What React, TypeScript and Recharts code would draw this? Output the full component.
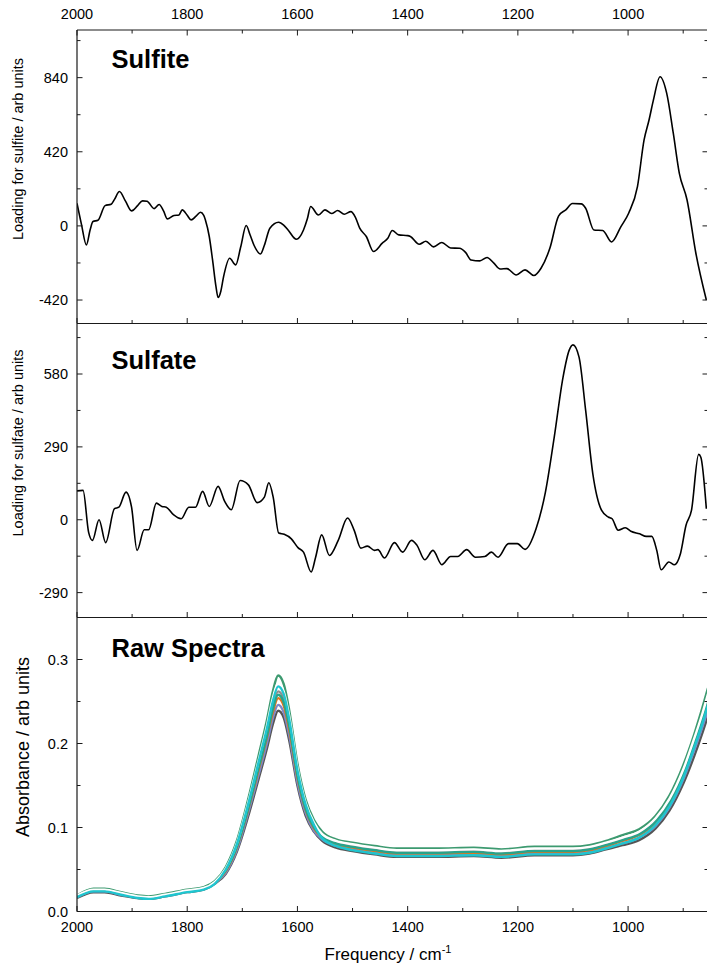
import React from "react";
import { LineChart, Line, XAxis, YAxis, Customized } from "recharts";

const FONT = '"Liberation Sans", Arial, Helvetica, sans-serif';
const INK = "#1a1a1a";

// ---- shared wavenumber axis (drawn high -> low) ----
const FREQ_DOMAIN = [855, 2000];
const FREQ_TICKS = [2000, 1900, 1800, 1700, 1600, 1500, 1400, 1300, 1200, 1100, 1000, 900];
const FREQ_LABELS = [2000, 1800, 1600, 1400, 1200, 1000];

// ---- loading axes ----
const SULFITE_DOMAIN = [-553, 1110];
const SULFITE_TICKS = [1050, 840, 630, 420, 210, 0, -210, -420];
const SULFITE_LABELS = [840, 420, 0, -420];

const SULFATE_DOMAIN = [-389, 781];
const SULFATE_TICKS = [725, 580, 435, 290, 145, 0, -145, -290];
const SULFATE_LABELS = [580, 290, 0, -290];

const ABS_DOMAIN = [0, 0.35];
const ABS_TICKS = [0, 0.05, 0.1, 0.15, 0.2, 0.25, 0.3];
const ABS_LABELS = [0, 0.1, 0.2, 0.3];

// ---- sulfite loading ----
const sulfiteFreq = [
  2000, 1992, 1983, 1976, 1971, 1962, 1949, 1938, 1932, 1923, 1912, 1901, 1890, 1881, 1873,
  1860, 1851, 1843, 1836, 1824, 1815, 1809, 1800, 1793, 1784, 1776, 1770, 1767, 1760, 1754,
  1748, 1744, 1739, 1734, 1723, 1712, 1703, 1693, 1686, 1679, 1667, 1660, 1650, 1634, 1625,
  1617, 1602, 1589, 1582, 1576, 1562, 1550, 1538, 1527, 1515, 1503, 1495, 1487, 1475, 1462,
  1446, 1436, 1428, 1416, 1400, 1395, 1379, 1367, 1353, 1338, 1322, 1306, 1295, 1285, 1269,
  1256, 1244, 1232, 1220, 1203, 1187, 1171, 1158, 1142, 1126, 1113, 1101, 1085, 1077, 1062,
  1046, 1030, 1013, 999, 983, 971, 962, 954, 942, 930, 918, 907, 893, 877, 858,
];
const sulfiteLoading = [
  128, 10, -108, -20, 25, 32, 115, 123, 150, 195, 140, 85, 115, 142, 140,
  98, 121, 85, 40, 59, 62, 91, 60, 34, 55, 77, 60, 34, -60, -193,
  -340, -406, -370, -287, -183, -221, -120, 2, -50, -108, -159, -110, -13, 21, 5,
  -23, -76, -23, 40, 110, 62, 91, 70, 87, 66, 81, 50, -13, -60, -145,
  -98, -70, -26, -51, -55, -60, -104, -87, -119, -94, -125, -127, -150, -193, -198,
  -179, -210, -244, -242, -278, -249, -281, -240, -127, 57, 91, 127, 125, 100, -23,
  -26, -91, -4, 72, 223, 487, 600, 714, 845, 752, 525, 298, 147, -155, -420,
];

// ---- sulfate loading ----
const sulfateFreq = [
  2000, 1989, 1979, 1972, 1960, 1948, 1932, 1924, 1911, 1901, 1891, 1878, 1870, 1856, 1846,
  1838, 1825, 1811, 1797, 1785, 1772, 1760, 1744, 1732, 1720, 1704, 1689, 1673, 1660, 1652,
  1644, 1634, 1624, 1611, 1599, 1589, 1575, 1567, 1556, 1542, 1526, 1509, 1497, 1485, 1473,
  1460, 1454, 1442, 1424, 1409, 1393, 1383, 1369, 1354, 1338, 1322, 1309, 1293, 1277, 1260,
  1248, 1236, 1217, 1201, 1187, 1167, 1150, 1134, 1118, 1107, 1100, 1089, 1077, 1064, 1048,
  1036, 1029, 1018, 1005, 995, 979, 967, 957, 948, 940, 926, 916, 905, 895, 885,
  872, 868, 858,
];
const sulfateLoading = [
  115, 117, -49, -82, 0, -91, 44, 50, 110, 50, -122, -40, -40, 66, 53,
  50, 20, 4, 50, 50, 113, 53, 133, 73, 40, 156, 139, 68, 90, 147,
  90, -53, -58, -76, -111, -129, -208, -149, -60, -142, -82, 7, -42, -113, -105,
  -122, -119, -152, -91, -129, -82, -102, -159, -122, -179, -146, -146, -119, -149, -146,
  -129, -149, -95, -95, -118, -36, 110, 329, 568, 674, 696, 647, 435, 183, 37,
  11, 4, -42, -32, -46, -56, -66, -66, -122, -199, -168, -179, -135, -23, 37,
  260, 249, 44,
];

// ---- raw absorbance spectra ----
const rawFreq = [
  2000, 1970, 1950, 1920, 1890, 1870, 1840, 1800, 1770, 1750,
  1730, 1710, 1690, 1670, 1655, 1645, 1635, 1625, 1615, 1600, 1585, 1570,
  1555, 1530, 1500, 1460, 1420, 1350, 1280, 1230, 1170, 1100, 1070, 1040,
  1010, 980, 950, 925, 900, 880, 865, 855,
];
const rawA = [
  0.016, 0.023, 0.023, 0.019, 0.016, 0.015, 0.018, 0.023, 0.026, 0.033,
  0.045, 0.071, 0.112, 0.159, 0.195, 0.222, 0.239, 0.231, 0.204, 0.150, 0.114, 0.095,
  0.084, 0.076, 0.072, 0.068, 0.065, 0.065, 0.066, 0.064, 0.067, 0.067, 0.069, 0.074,
  0.079, 0.085, 0.099, 0.120, 0.152, 0.185, 0.213, 0.233,
];
const rawB = [
  0.017, 0.024, 0.024, 0.020, 0.017, 0.016, 0.019, 0.024, 0.027, 0.034,
  0.046, 0.073, 0.116, 0.164, 0.201, 0.229, 0.246, 0.237, 0.210, 0.154, 0.117, 0.096,
  0.086, 0.078, 0.074, 0.070, 0.067, 0.067, 0.068, 0.066, 0.069, 0.069, 0.071, 0.076,
  0.081, 0.088, 0.102, 0.124, 0.157, 0.192, 0.220, 0.241,
];
const rawC = [
  0.018, 0.025, 0.025, 0.021, 0.017, 0.016, 0.019, 0.024, 0.027, 0.034,
  0.048, 0.076, 0.120, 0.170, 0.208, 0.236, 0.254, 0.245, 0.217, 0.160, 0.121, 0.099,
  0.088, 0.080, 0.076, 0.072, 0.069, 0.069, 0.070, 0.068, 0.071, 0.071, 0.073, 0.078,
  0.084, 0.091, 0.105, 0.128, 0.161, 0.197, 0.226, 0.248,
];
const rawD = [
  0.018, 0.025, 0.026, 0.022, 0.018, 0.017, 0.020, 0.025, 0.028, 0.035,
  0.049, 0.077, 0.121, 0.172, 0.210, 0.240, 0.258, 0.249, 0.221, 0.162, 0.122, 0.100,
  0.089, 0.081, 0.077, 0.073, 0.070, 0.070, 0.071, 0.069, 0.072, 0.072, 0.074, 0.079,
  0.085, 0.092, 0.107, 0.130, 0.165, 0.201, 0.231, 0.253,
];
const rawE = [
  0.019, 0.026, 0.026, 0.022, 0.018, 0.017, 0.020, 0.025, 0.028, 0.035,
  0.049, 0.078, 0.123, 0.175, 0.214, 0.243, 0.262, 0.253, 0.224, 0.164, 0.124, 0.102,
  0.090, 0.082, 0.078, 0.074, 0.071, 0.071, 0.072, 0.070, 0.073, 0.073, 0.075, 0.080,
  0.086, 0.093, 0.109, 0.132, 0.167, 0.203, 0.234, 0.256,
];
const rawF = [
  0.017, 0.024, 0.024, 0.020, 0.016, 0.015, 0.018, 0.023, 0.026, 0.033,
  0.050, 0.080, 0.126, 0.179, 0.219, 0.249, 0.268, 0.259, 0.229, 0.168, 0.127, 0.103,
  0.087, 0.078, 0.073, 0.069, 0.066, 0.066, 0.067, 0.065, 0.068, 0.068, 0.070, 0.075,
  0.081, 0.088, 0.103, 0.125, 0.159, 0.195, 0.224, 0.246,
];
const rawG = [
  0.019, 0.026, 0.026, 0.022, 0.018, 0.017, 0.020, 0.025, 0.028, 0.035,
  0.051, 0.081, 0.128, 0.181, 0.222, 0.253, 0.272, 0.262, 0.233, 0.171, 0.129, 0.106,
  0.092, 0.084, 0.080, 0.076, 0.073, 0.073, 0.074, 0.072, 0.075, 0.075, 0.077, 0.082,
  0.088, 0.095, 0.111, 0.134, 0.169, 0.206, 0.236, 0.259,
];
const rawH = [
  0.019, 0.027, 0.027, 0.023, 0.019, 0.018, 0.021, 0.026, 0.029, 0.036,
  0.053, 0.084, 0.132, 0.187, 0.229, 0.261, 0.281, 0.271, 0.240, 0.176, 0.133, 0.109,
  0.095, 0.086, 0.082, 0.078, 0.075, 0.075, 0.076, 0.074, 0.077, 0.077, 0.079, 0.084,
  0.091, 0.098, 0.114, 0.138, 0.174, 0.211, 0.243, 0.266,
];

// drawing order: later spectra sit on top
const rawSpectra = [
  { id: "A", values: rawA, color: "#555555" },
  { id: "E", values: rawE, color: "#8e8e8e" },
  { id: "B", values: rawB, color: "#7d88c9" },
  { id: "C", values: rawC, color: "#e6731c" },
  { id: "D", values: rawD, color: "#27a48b" },
  { id: "H", values: rawH, color: "#3d9a70" },
  { id: "G", values: rawG, color: "#ffffff" },
  { id: "F", values: rawF, color: "#1fc5cf" },
];

const toPoints = (f: number[], v: number[]) => f.map((x, i) => ({ f: x, v: v[i] }));

// ---- layout ----
const CHART_W = 720;
const MARGIN_R = 11;
const AXIS_W = 77;

type Side = "left" | "right" | "top" | "bottom";

function makeTick(side: Side, majors: number[], labelled: boolean, fmt: (v: number) => string = (v) => String(v)) {
  return function Tick(props: any) {
    const { x, y, payload } = props;
    const v: number = payload.value;
    const isMajor = majors.some((m) => Math.abs(m - v) < 1e-9);
    const len = isMajor ? 5.5 : 3.5;
    let x2 = x;
    let y2 = y;
    if (side === "left") x2 = x + len;
    if (side === "right") x2 = x - len;
    if (side === "top") y2 = y + len;
    if (side === "bottom") y2 = y - len;
    let label: React.ReactNode = null;
    const common = { fontFamily: FONT, fontSize: 14.5, fill: "#000" };
    if (labelled && isMajor) {
      if (side === "left")
        label = (
          <text x={x - 9} y={y} dy="0.36em" textAnchor="end" {...common}>
            {fmt(v)}
          </text>
        );
      if (side === "top")
        label = (
          <text x={x} y={y - 11} textAnchor="middle" {...common}>
            {fmt(v)}
          </text>
        );
      if (side === "bottom")
        label = (
          <text x={x} y={y + 20} textAnchor="middle" {...common}>
            {fmt(v)}
          </text>
        );
    }
    return (
      <g>
        <line x1={x} y1={y} x2={x2} y2={y2} stroke={INK} strokeWidth={1} />
        {label}
      </g>
    );
  };
}

const axisLine = { stroke: INK, strokeWidth: 1.2 };

function freqAxis(id: string, side: "top" | "bottom", height: number, labelled: boolean) {
  return (
    <XAxis
      xAxisId={id}
      orientation={side}
      type="number"
      dataKey="f"
      domain={FREQ_DOMAIN}
      reversed
      allowDataOverflow
      ticks={FREQ_TICKS}
      interval={0}
      height={height}
      tickSize={0}
      tickMargin={0}
      tickLine={false}
      axisLine={axisLine}
      tick={makeTick(side, FREQ_LABELS, labelled)}
    />
  );
}

function valueAxis(id: string, side: "left" | "right", domain: number[], ticks: number[], majors: number[], labelled: boolean, fmt?: (v: number) => string) {
  return (
    <YAxis
      yAxisId={id}
      orientation={side}
      type="number"
      domain={domain}
      allowDataOverflow
      ticks={ticks}
      interval={0}
      width={side === "left" ? AXIS_W : 1}
      tickSize={0}
      tickMargin={0}
      tickLine={false}
      axisLine={axisLine}
      tick={makeTick(side, majors, labelled, fmt)}
    />
  );
}

function PanelText({ title, titleY, yLabel, yLabelX, yLabelY, yLabelSize }: { title: string; titleY: number; yLabel: string; yLabelX: number; yLabelY: number; yLabelSize: number }) {
  return (
    <g>
      <text x={111.5} y={titleY} fontFamily={FONT} fontSize={25.5} fontWeight="bold" fill="#000">
        {title}
      </text>
      <text
        x={yLabelX}
        y={yLabelY}
        transform={`rotate(-90 ${yLabelX} ${yLabelY})`}
        textAnchor="middle"
        fontFamily={FONT}
        fontSize={yLabelSize}
        fill="#000"
      >
        {yLabel}
      </text>
    </g>
  );
}

const sulfitePoints = toPoints(sulfiteFreq, sulfiteLoading);
const sulfatePoints = toPoints(sulfateFreq, sulfateLoading);

export default function App() {
  return (
    <div style={{ position: "absolute", left: 0, top: 0, width: 707, height: 967, overflow: "hidden", background: "#fff" }}>
      {/* Sulfite loading */}
      <div style={{ position: "absolute", left: 0, top: 0 }}>
        <LineChart width={CHART_W} height={325.5} margin={{ top: 0, right: MARGIN_R, bottom: 1, left: 0 }}>
          {freqAxis("top", "top", 30, true)}
          {freqAxis("bottom", "bottom", 1, false)}
          {valueAxis("left", "left", SULFITE_DOMAIN, SULFITE_TICKS, SULFITE_LABELS, true)}
          {valueAxis("right", "right", SULFITE_DOMAIN, SULFITE_TICKS, SULFITE_LABELS, false)}
          <Line
            xAxisId="bottom"
            yAxisId="left"
            data={sulfitePoints}
            dataKey="v"
            type="monotone"
            stroke="#000"
            strokeWidth={1.6}
            dot={false}
            isAnimationActive={false}
          />
          <Customized
            component={() => (
              <PanelText title="Sulfite" titleY={68} yLabel="Loading for sulfite / arb units" yLabelX={23} yLabelY={149} yLabelSize={14.5} />
            )}
          />
        </LineChart>
      </div>

      {/* Sulfate loading */}
      <div style={{ position: "absolute", left: 0, top: 300 }}>
        <LineChart width={CHART_W} height={319.5} margin={{ top: 23.5, right: MARGIN_R, bottom: 1, left: 0 }}>
          {freqAxis("bottom", "bottom", 1, false)}
          {valueAxis("left", "left", SULFATE_DOMAIN, SULFATE_TICKS, SULFATE_LABELS, true)}
          {valueAxis("right", "right", SULFATE_DOMAIN, SULFATE_TICKS, SULFATE_LABELS, false)}
          <Line
            xAxisId="bottom"
            yAxisId="left"
            data={sulfatePoints}
            dataKey="v"
            type="monotone"
            stroke="#000"
            strokeWidth={1.6}
            dot={false}
            isAnimationActive={false}
          />
          <Customized
            component={() => (
              <PanelText title="Sulfate" titleY={69} yLabel="Loading for sulfate / arb units" yLabelX={23} yLabelY={143} yLabelSize={14.5} />
            )}
          />
        </LineChart>
      </div>

      {/* Raw absorbance spectra */}
      <div style={{ position: "absolute", left: 0, top: 600 }}>
        <LineChart width={CHART_W} height={367} margin={{ top: 17.5, right: MARGIN_R, bottom: 0, left: 0 }}>
          {freqAxis("bottom", "bottom", 55.5, true)}
          {valueAxis("left", "left", ABS_DOMAIN, ABS_TICKS, ABS_LABELS, true, (v) => v.toFixed(1))}
          {valueAxis("right", "right", ABS_DOMAIN, ABS_TICKS, ABS_LABELS, false)}
          {rawSpectra.map((s) => (
            <Line
              key={s.id}
              xAxisId="bottom"
              yAxisId="left"
              data={toPoints(rawFreq, s.values)}
              dataKey="v"
              type="monotone"
              stroke={s.color}
              strokeWidth={2.4}
              dot={false}
              isAnimationActive={false}
            />
          ))}
          <Customized
            component={() => (
              <g>
                <PanelText title="Raw Spectra" titleY={57} yLabel="Absorbance / arb units" yLabelX={29} yLabelY={147} yLabelSize={18} />
                <text x={388} y={360} textAnchor="middle" fontFamily={FONT} fontSize={17} fill="#000">
                  Frequency / cm
                  <tspan dy={-7} fontSize={11}>
                    -1
                  </tspan>
                </text>
              </g>
            )}
          />
        </LineChart>
      </div>
    </div>
  );
}
